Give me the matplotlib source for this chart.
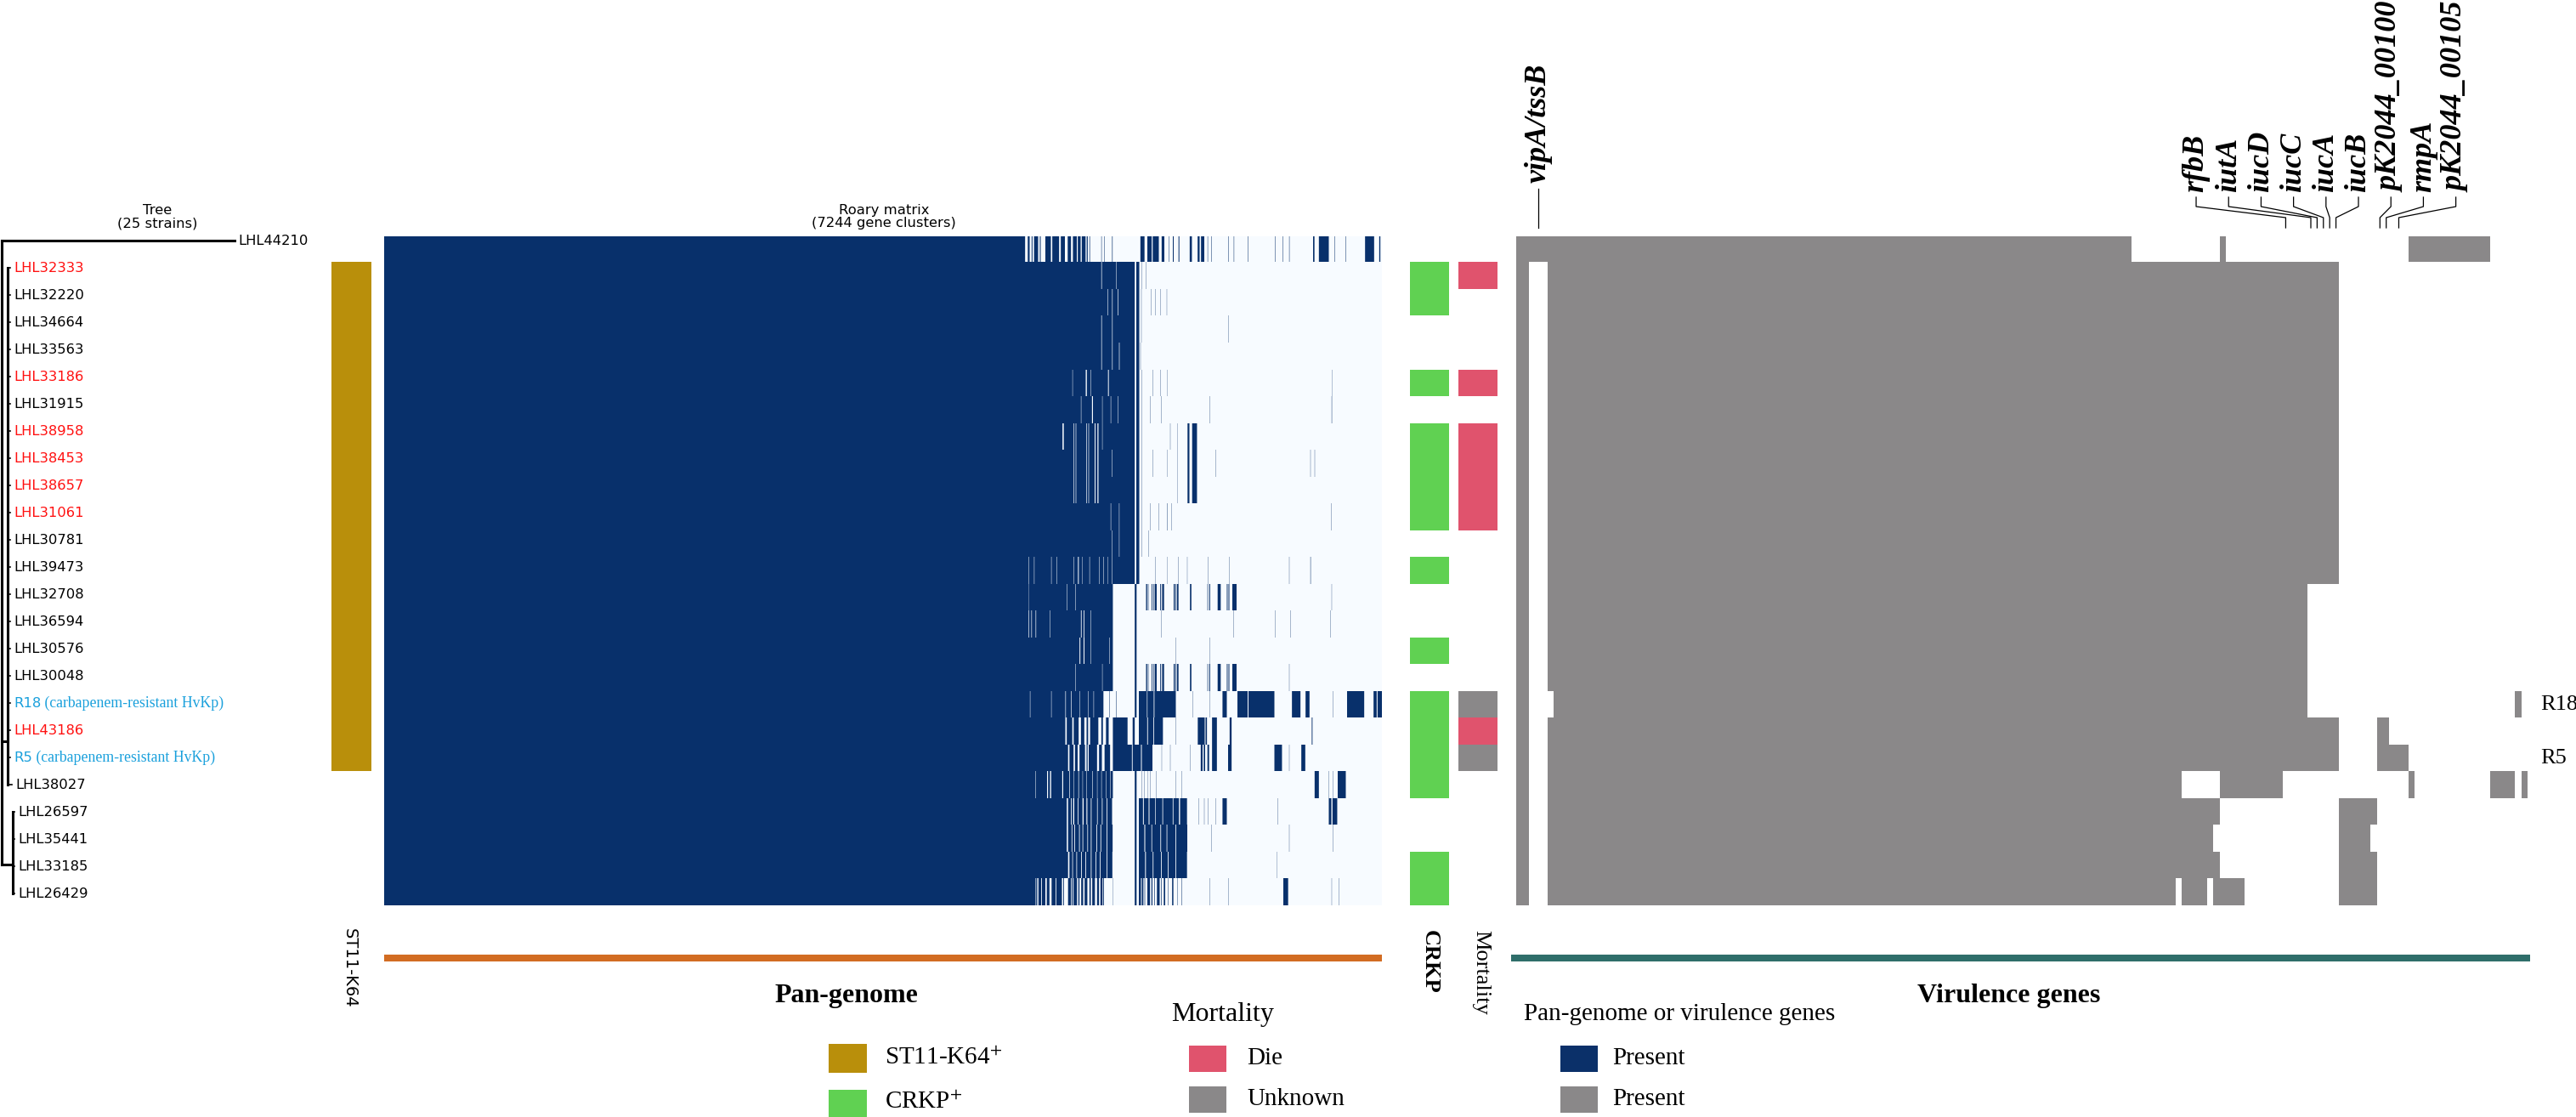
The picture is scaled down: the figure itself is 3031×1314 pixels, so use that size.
import numpy as np
import matplotlib
matplotlib.use("Agg")
import matplotlib.pyplot as plt
from matplotlib.colors import ListedColormap, LinearSegmentedColormap
from matplotlib.patches import Rectangle

plt.rcParams['mathtext.fontset'] = 'stix'

W, H = 3031, 1314
SERIF = 'Liberation Serif'
SANS = 'DejaVu Sans'

# ---------------- data ----------------
strains = ['LHL44210', 'LHL32333', 'LHL32220', 'LHL34664', 'LHL33563', 'LHL33186',
           'LHL31915', 'LHL38958', 'LHL38453', 'LHL38657', 'LHL31061', 'LHL30781',
           'LHL39473', 'LHL32708', 'LHL36594', 'LHL30576', 'LHL30048', 'R18',
           'LHL43186', 'R5', 'LHL38027', 'LHL26597', 'LHL35441', 'LHL33185', 'LHL26429']
strain_note = ['', '', '', '', '', '', '', '', '', '', '', '', '', '', '', '', '',
               ' (carbapenem-resistant HvKp)', '', ' (carbapenem-resistant HvKp)',
               '', '', '', '', '']
strain_group = ['k', 'r', 'k', 'k', 'k', 'r', 'k', 'r', 'r', 'r', 'r', 'k', 'k',
                'k', 'k', 'k', 'k', 'c', 'r', 'c', 'k', 'k', 'k', 'k', 'k']

# tree: tip x of every leaf, and clades (x, first row, last row, row where it joins root)
tree_root_x = 2
tree_tip = [276] + [12] * 19 + [14] + [17] * 4
tree_clades = [(9, 1, 20, 18.4), (15, 21, 24, 22.94)]

st11 = [0, 1, 1, 1, 1, 1, 1, 1, 1, 1, 1, 1, 1, 1, 1, 1, 1, 1, 1, 1, 0, 0, 0, 0, 0]
crkp = [0, 1, 1, 0, 0, 1, 0, 1, 1, 1, 1, 0, 1, 0, 0, 1, 0, 1, 1, 1, 1, 0, 0, 1, 1]
# 0 none, 1 die, 2 unknown
mortality = [0, 1, 0, 0, 0, 1, 0, 1, 1, 1, 1, 0, 0, 0, 0, 0, 0, 2, 1, 2, 0, 0, 0, 0, 0]

# Roary matrix, 7244 gene clusters: solid core end, white gaps, extra present segments
n_genes = 7244
roary_core_end = [4653, 5449, 5449, 5449, 5449, 5449, 5449, 5449, 5449, 5449, 5449, 5449, 5449,
                  5290, 5290, 5290, 5290, 5222, 4945, 4965, 5290, 4955, 4955, 4965, 4729]
roary_gaps = [
    [],
    [(5206, 4), (5315, 3)],
    [(5253, 4), (5284, 4), (5325, 4)],
    [(5206, 4), (5284, 4)],
    [(5206, 4), (5284, 4), (5335, 4)],
    [(4996, 3), (5093, 8), (5130, 3), (5255, 6)],
    [(5058, 3), (5138, 8), (5212, 3), (5274, 3), (5325, 3)],
    [(4924, 10), (5004, 4), (5020, 4), (5097, 4), (5113, 4), (5158, 6), (5178, 8), (5212, 3)],
    [(5004, 4), (5020, 4), (5097, 4), (5113, 4), (5158, 6), (5178, 8), (5284, 3)],
    [(5004, 4), (5020, 4), (5097, 4), (5113, 4), (5158, 6), (5178, 8)],
    [(5274, 3), (5335, 3)],
    [(5284, 3), (5335, 3)],
    [(4677, 3), (4718, 3), (4842, 3), (4883, 3), (5006, 3), (5037, 6), (5068, 3), (5120, 3),
     (5192, 3), (5222, 3), (5253, 3), (5284, 3)],
    [(4677, 2), (4955, 3), (5017, 3)],
    [(4677, 4), (4698, 4), (4729, 4), (4832, 3), (5058, 5), (5078, 5), (5130, 3)],
    [(5048, 6), (5078, 6), (5130, 3), (5263, 3)],
    [(5017, 3), (5212, 3)],
    [(4688, 3), (4842, 3), (4945, 4), (4986, 4), (5048, 3), (5109, 3), (5150, 3)],
    [],
    [],
    [(4729, 3), (4812, 8), (4834, 8), (4922, 8), (4975, 4), (5006, 3), (5040, 4), (5070, 3),
     (5099, 3), (5140, 4), (5175, 3), (5206, 3), (5240, 3), (5270, 3)],
    [], [], [], [],
]
roary_extra = [
    [(4672, 14), (4700, 6), (4718, 30), (4760, 6), (4800, 40), (4850, 50), (4912, 30), (4962, 24),
     (5000, 28), (5036, 20), (5064, 28), (5100, 8), (5120, 4), (5206, 3), (5226, 3), (5284, 4),
     (5490, 30), (5540, 32), (5580, 44), (5644, 20), (5695, 3), (5726, 6), (5767, 6), (5848, 16),
     (5906, 14), (5930, 24), (5978, 3), (6004, 3), (6127, 3), (6168, 3), (6271, 3), (6467, 3),
     (6524, 3), (6570, 3), (6744, 10), (6786, 72), (6899, 3), (6981, 3), (7121, 66), (7224, 8)],
    [(5460, 22), (5500, 2), (5531, 2)],
    [(5460, 22), (5496, 2), (5566, 2), (5599, 2), (5634, 2), (5681, 2)],
    [(5460, 22), (5496, 2), (6127, 2)],
    [(5460, 22), (5490, 2)],
    [(5460, 22), (5500, 2), (5582, 2), (5634, 2), (5685, 2), (6882, 2)],
    [(5460, 22), (5500, 2), (5562, 2), (5640, 2), (5994, 2), (6878, 3)],
    [(5460, 22), (5500, 2), (5706, 2), (5757, 2), (5832, 14), (5866, 35)],
    [(5460, 22), (5500, 2), (5582, 2), (5685, 2), (5757, 2), (5832, 14), (5866, 35), (6035, 2),
     (6724, 2), (6755, 2)],
    [(5460, 22), (5500, 2), (5757, 2), (5832, 14), (5866, 35)],
    [(5460, 22), (5500, 2), (5562, 2), (5623, 2), (5685, 3), (5716, 2), (6874, 2)],
    [(5460, 22), (5500, 2), (5551, 2)],
    [(5460, 22), (5479, 2), (5599, 2), (5685, 2), (5767, 2), (5829, 2), (5983, 2), (6133, 2),
     (6570, 2), (6724, 3)],
    [(5449, 13), (5531, 8), (5545, 4), (5572, 6), (5584, 4), (5594, 14), (5634, 6), (5648, 14),
     (5732, 8), (5745, 4), (5755, 12), (5850, 10), (5977, 4), (5990, 6), (6051, 22), (6117, 6),
     (6130, 6), (6158, 30), (6878, 2)],
    [(5449, 13), (5640, 2), (6168, 2), (6467, 2), (6580, 2), (6868, 2)],
    [(5449, 13), (5747, 2), (5994, 2)],
    [(5449, 13), (5531, 8), (5545, 4), (5572, 6), (5584, 4), (5594, 14), (5634, 6), (5648, 14),
     (5732, 8), (5745, 4), (5755, 12), (5850, 10), (5977, 4), (5990, 6), (6051, 22), (6117, 6),
     (6130, 6), (6158, 30), (6570, 2)],
    [(5263, 3), (5315, 3), (5449, 13), (5479, 58), (5541, 46), (5592, 155), (5870, 2), (5994, 2),
     (6086, 31), (6195, 74), (6275, 188), (6590, 62), (6689, 29), (6888, 2), (6991, 124),
     (7183, 22), (7212, 36)],
    [(4955, 40), (5006, 36), (5058, 25), (5099, 12), (5125, 60), (5206, 12), (5240, 20),
     (5290, 107), (5434, 15), (5479, 60), (5545, 40), (5590, 64), (5747, 2), (5907, 50),
     (5963, 10), (6010, 35), (6138, 14), (6734, 6)],
    [(4975, 30), (5015, 20), (5048, 40), (5099, 8), (5115, 60), (5190, 20), (5230, 40),
     (5290, 138), (5434, 60), (5500, 78), (5644, 2), (5706, 2), (5850, 2), (5928, 14),
     (5950, 10), (5977, 12), (6010, 35), (6127, 25), (6463, 55), (6570, 2), (6658, 29)],
    [(5449, 13), (5500, 2), (5520, 2), (5541, 2), (5562, 2), (5603, 2), (5747, 2), (5788, 2),
     (6755, 31), (6858, 2), (6888, 2), (6923, 58)],
    [(4965, 20), (4990, 12), (5010, 25), (5040, 30), (5078, 20), (5105, 25), (5135, 40),
     (5180, 30), (5215, 30), (5250, 34), (5449, 13), (5479, 30), (5515, 35), (5556, 40),
     (5600, 50), (5655, 70), (5730, 40), (5778, 50), (5911, 2), (5953, 2), (5983, 2), (6035, 2),
     (6086, 31), (6487, 2), (6858, 18), (6885, 34)],
    [(4965, 25), (4995, 15), (5015, 30), (5050, 20), (5075, 30), (5110, 20), (5135, 35),
     (5175, 25), (5205, 40), (5250, 38), (5449, 13), (5479, 40), (5525, 45), (5575, 60),
     (5640, 40), (5685, 60), (5750, 80), (6004, 2), (6570, 2), (6888, 2)],
    [(4975, 20), (5000, 25), (5030, 30), (5065, 25), (5095, 35), (5135, 30), (5170, 25),
     (5200, 45), (5250, 36), (5449, 13), (5479, 45), (5530, 50), (5585, 55), (5645, 45),
     (5695, 50), (5750, 78), (6481, 2)],
    [(4733, 8), (4750, 20), (4775, 25), (4810, 20), (4845, 30), (4880, 40), (4930, 5), (4965, 20),
     (4990, 8), (5005, 25), (5040, 8), (5060, 15), (5085, 20), (5120, 10), (5140, 20), (5175, 15),
     (5200, 15), (5220, 5), (5290, 2), (5449, 13), (5479, 15), (5500, 12), (5520, 4), (5540, 20),
     (5570, 8), (5590, 4), (5610, 20), (5640, 4), (5660, 10), (5690, 3), (5720, 10), (5757, 3),
     (5788, 3), (5994, 2), (6127, 2), (6528, 35), (6878, 2), (6930, 2)],
]

# virulence genes: 161 columns, present column ranges [start, end) per strain
n_vf = 161
vf_present = [
    [(0, 98), (112, 113), (142, 155)],
    [(0, 2), (5, 131)], [(0, 2), (5, 131)], [(0, 2), (5, 131)], [(0, 2), (5, 131)],
    [(0, 2), (5, 131)], [(0, 2), (5, 131)], [(0, 2), (5, 131)], [(0, 2), (5, 131)],
    [(0, 2), (5, 131)], [(0, 2), (5, 131)], [(0, 2), (5, 131)], [(0, 2), (5, 131)],
    [(0, 2), (5, 126)], [(0, 2), (5, 126)], [(0, 2), (5, 126)], [(0, 2), (5, 126)],
    [(0, 2), (6, 126), (159, 160)],
    [(0, 2), (5, 131), (137, 139)],
    [(0, 2), (5, 131), (137, 142)],
    [(0, 2), (5, 106), (112, 122), (142, 143), (155, 159), (160, 161)],
    [(0, 2), (5, 112), (131, 137)],
    [(0, 2), (5, 111), (131, 136)],
    [(0, 2), (5, 112), (131, 137)],
    [(0, 2), (5, 105), (106, 110), (111, 116), (131, 137)],
]
vf_gene_names = ['vipA/tssB', 'rfbB', 'iutA', 'iucD', 'iucC', 'iucA', 'iucB',
                 'pK2044_00100', 'rmpA', 'pK2044_00105']
vf_gene_cols = [3, 122, 126, 127, 128, 129, 130, 137, 138, 140]
vf_row_tags = {17: 'R18', 19: 'R5'}

# colours
NAVY = '#08306b'
PALE = '#f7fbff'
GREY = '#8a8889'
GOLD = '#b98f0b'
GREEN = '#60d152'
ROSE = '#e0536d'
ORANGE = '#d26c22'
TEAL = '#2f6e6a'
label_colors = {'k': 'black', 'r': '#ff1010', 'c': '#1aa0dc'}

# ---------------- figure ----------------
fig = plt.figure(figsize=(W / 100, H / 100), dpi=100, facecolor='white')


def px_axes(x0, y0, x1, y1):
    ax = fig.add_axes([x0 / W, 1 - y1 / H, (x1 - x0) / W, (y1 - y0) / H])
    ax.set_axis_off()
    return ax


def ftext(x, y, s, **kw):
    return fig.text(x / W, 1 - y / H, s, **kw)


n = len(strains)
MAT_TOP, MAT_BOT = 277.5, 1065

# tree
ax_t = px_axes(0, 267, 460, 1067)
ax_t.set_xlim(0, 460)
ax_t.set_ylim(n - 0.5, -0.5)
tlw = 2.2
ax_t.plot([tree_root_x, tree_root_x], [0, max(c[3] for c in tree_clades)], color='black', lw=tlw)
ax_t.plot([tree_root_x, tree_tip[0]], [0, 0], color='black', lw=tlw)
for cx, r0, r1, jr in tree_clades:
    ax_t.plot([tree_root_x, cx], [jr, jr], color='black', lw=tlw)
    ax_t.plot([cx, cx], [r0, r1], color='black', lw=tlw)
    for r in range(r0, r1 + 1):
        ax_t.plot([cx, tree_tip[r]], [r, r], color='black', lw=1.2)
for i, name in enumerate(strains):
    col = label_colors[strain_group[i]]
    t = ax_t.text(tree_tip[i] + 4, i, name, va='center', ha='left', fontsize=11.8,
                  family=SANS, color=col)
    if strain_note[i]:
        ax_t.annotate(strain_note[i], xy=(1, 0.5), xycoords=t, va='center', ha='left',
                      fontsize=12.8, family=SERIF, color=col)

ftext(185, 255, 'Tree\n(25 strains)', ha='center', va='center', fontsize=11.8,
      family=SANS, linespacing=1.05)
ftext(1040, 255, 'Roary matrix\n(%d gene clusters)' % n_genes, ha='center', va='center',
      fontsize=11.8, family=SANS, linespacing=1.05)

# ST11-K64 column
ax_s = px_axes(390, MAT_TOP, 436, MAT_BOT)
ax_s.imshow(np.array(st11, float)[:, None], cmap=ListedColormap(['white', GOLD]),
            aspect='auto', interpolation='nearest', extent=(0, 1, n, 0), vmin=0, vmax=1)

# Roary matrix, binned to screen pixels so thin clusters show as pale lines
M = np.zeros((n, n_genes))
for r in range(n):
    M[r, :roary_core_end[r]] = 1
    for s, w in roary_extra[r]:
        M[r, s:s + w] = 1
    for s, w in roary_gaps[r]:
        M[r, s:s + w] = 0
npx = 1174
edges = np.linspace(0, n_genes, npx + 1).astype(int)
binned = np.add.reduceat(M, edges[:-1], axis=1) / np.diff(edges)
ax_r = px_axes(452, MAT_TOP, 1626, MAT_BOT)
ax_r.imshow(binned, cmap=LinearSegmentedColormap.from_list('roary', [PALE, NAVY]),
            aspect='auto', interpolation='nearest', extent=(0, n_genes, n, 0), vmin=0, vmax=1)
ax_r.plot([0, 1], [-0.079, -0.079], transform=ax_r.transAxes, color=ORANGE, lw=5.8,
          clip_on=False, solid_capstyle='butt')

# CRKP and mortality columns
ax_c = px_axes(1659, MAT_TOP, 1705, MAT_BOT)
ax_c.imshow(np.array(crkp, float)[:, None], cmap=ListedColormap(['white', GREEN]),
            aspect='auto', interpolation='nearest', extent=(0, 1, n, 0), vmin=0, vmax=1)
ax_m = px_axes(1716, MAT_TOP, 1762, MAT_BOT)
ax_m.imshow(np.array(mortality, float)[:, None], cmap=ListedColormap(['white', ROSE, GREY]),
            aspect='auto', interpolation='nearest', extent=(0, 1, n, 0), vmin=0, vmax=2)

# virulence matrix
V = np.zeros((n, n_vf))
for r, segs in enumerate(vf_present):
    for a, b in segs:
        V[r, a:b] = 1
ax_v = px_axes(1784, MAT_TOP, 2974, MAT_BOT)
ax_v.imshow(V, cmap=ListedColormap(['white', GREY]), aspect='auto', interpolation='nearest',
            extent=(0, n_vf, n, 0), vmin=0, vmax=1)
ax_v.set_xlim(0, n_vf)
ax_v.set_ylim(n, 0)
ax_v.plot([-0.005, 1.0025], [-0.079, -0.079], transform=ax_v.transAxes, color=TEAL, lw=5.8,
          clip_on=False, solid_capstyle='butt')
for r, tag in vf_row_tags.items():
    ax_v.text(n_vf + 2.1, r + 0.5, tag, va='center', ha='left', fontsize=19, family=SERIF)


# gene labels with connectors (pixel rows above the matrix converted to row units)
def yrow(ypx):
    return (ypx - MAT_TOP) / ((MAT_BOT - MAT_TOP) / n)


y_top, y_k1, y_k2, y_bot = yrow(232), yrow(243), yrow(256), yrow(268)
slot0, slot_step = 108.24, 5.168
lkw = dict(color='black', lw=0.9, clip_on=False)
gkw = dict(rotation=90, ha='center', va='bottom', fontsize=26, family=SERIF,
           style='italic', weight='bold')
for j, (g, c) in enumerate(zip(vf_gene_names, vf_gene_cols)):
    xb = c + 0.5
    if j == 0:
        ax_v.plot([xb, xb], [yrow(222), y_bot], **lkw)
        ax_v.text(xb, yrow(215), g, **gkw)
    else:
        xs = slot0 + slot_step * (j - 1)
        ax_v.plot([xs, xs, xb, xb], [y_top, y_k1, y_k2, y_bot], **lkw)
        ax_v.text(xs, yrow(226), g, **gkw)

# bottom labels
ftext(411, 1092, 'ST11-K64', rotation=270, ha='center', va='top', fontsize=14, family=SANS)
ftext(1682, 1094, 'CRKP', rotation=270, ha='center', va='top', fontsize=19, family=SERIF,
      weight='bold')
ftext(1742, 1094, 'Mortality', rotation=270, ha='center', va='top', fontsize=19, family=SERIF)
ftext(996, 1171, 'Pan-genome', ha='center', va='center', fontsize=23, family=SERIF,
      weight='bold')
ftext(2364, 1171, 'Virulence genes', ha='center', va='center', fontsize=23, family=SERIF,
      weight='bold')


# legends
def patch(x0, y0, x1, y1, color):
    fig.add_artist(Rectangle((x0 / W, 1 - y1 / H), (x1 - x0) / W, (y1 - y0) / H,
                             transform=fig.transFigure, facecolor=color, edgecolor='none'))


lt = dict(ha='left', va='center', fontsize=21, family=SERIF)
patch(975, 1228, 1020, 1262, GOLD)
patch(975, 1282, 1020, 1314, GREEN)
ftext(1041, 1245, 'ST11-K64$^{+}$', **lt)
ftext(1041, 1297, 'CRKP$^{+}$', **lt)

ftext(1378, 1193, 'Mortality', ha='left', va='center', fontsize=23, family=SERIF)
patch(1399, 1230, 1443, 1261, ROSE)
patch(1399, 1278, 1443, 1309, GREY)
ftext(1467, 1245, 'Die', **lt)
ftext(1467, 1293, 'Unknown', **lt)

ftext(1793, 1193, 'Pan-genome or virulence genes', **lt)
patch(1836, 1230, 1880, 1261, '#0b3069')
patch(1836, 1278, 1880, 1309, GREY)
ftext(1897, 1245, 'Present', **lt)
ftext(1897, 1293, 'Present', **lt)

fig.savefig('out.png', dpi=100, facecolor='white')
